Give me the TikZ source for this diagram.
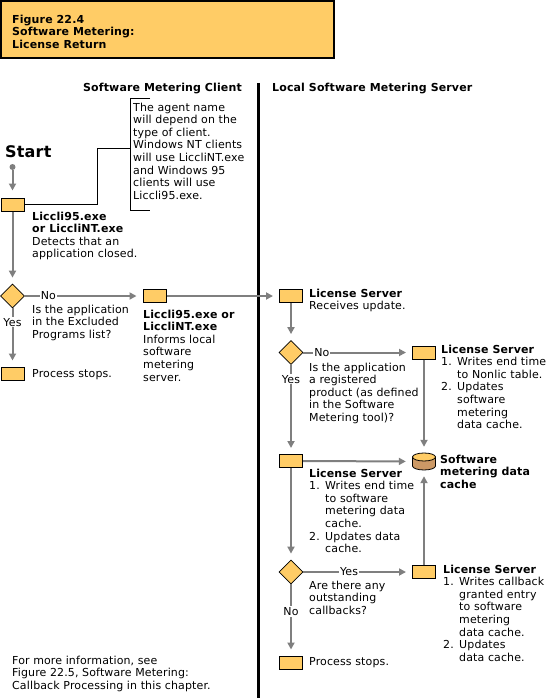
\documentclass[tikz,border=0pt]{standalone}
\usepackage{fontspec}
\setmainfont{DejaVu Sans}[LetterSpace=1.2]
\usetikzlibrary{shapes.geometric,arrows.meta}
\definecolor{orangefill}{HTML}{FFCC66}
\definecolor{linegray}{HTML}{7F7F7F}
\definecolor{dbside}{HTML}{CC9966}
\newcommand{\itm}[1]{\makebox[16pt][l]{#1}}
\newcommand{\ind}{\hspace*{16pt}}
\begin{document}
\begin{tikzpicture}[x=1pt,y=-1pt,
  box/.style={draw=black, line width=1pt, fill=orangefill, minimum width=23pt, minimum height=13pt, inner sep=0pt},
  decision/.style={diamond, aspect=1, draw=black, line width=0.8pt, fill=orangefill, minimum width=24pt, minimum height=24pt, inner sep=0pt},
  txt/.style={font=\fontsize{11}{12.6}\selectfont, align=left, anchor=north west, inner sep=0pt},
  btxt/.style={txt, font=\fontsize{11}{12.6}\selectfont\bfseries},
  flow/.style={draw=linegray, line width=2pt, -{Triangle[length=7pt,width=7pt]}, shorten >=6pt},
  lbl/.style={font=\fontsize{11}{12.6}\selectfont, fill=white, inner sep=1pt, text=black},
  thinline/.style={draw=black, line width=1pt}
]
\useasboundingbox (0,0) rectangle (549,698);

% title
\draw[line width=2pt, fill=orangefill] (1,1) rectangle (334,58);
\node[btxt, font=\fontsize{11}{12.2}\selectfont\bfseries] (title) at (12,15) {\strut Figure 22.4\\Software Metering:\\License Return};

% headers and divider
\node[btxt, anchor=north east] (hclient) at (242,82) {\strut Software Metering Client};
\node[btxt] (hserver) at (272,82) {\strut Local Software Metering Server};
\draw[line width=3pt] (258,83) -- (258,698);

% start
\node[font=\fontsize{16}{18}\selectfont\bfseries, anchor=west, inner sep=0pt] (start) at (5,152) {Start};
\node[circle, fill=linegray, minimum size=6pt, inner sep=0pt] (dot) at (12.5,167) {};

% nodes
\node[box] (b1) at (12.5,204.5) {};
\node[decision] (d1) at (12.5,296) {};
\node[box] (b3) at (12.5,373.5) {};
\node[box] (b2) at (154.5,296) {};
\node[box] (b4) at (291,296) {};
\node[decision] (d2) at (291,352.5) {};
\node[box] (b5) at (424,352.5) {};
\node[box] (b6) at (291,461) {};
\node[minimum width=24pt, minimum height=17pt, inner sep=0pt] (db) at (424,461.5) {};
\node[decision] (d3) at (291,572) {};
\node[box] (b7) at (424,572) {};
\node[box] (b8) at (291,662.5) {};

% database cylinder
\begin{scope}[shift={(db.center)}]
  \filldraw[fill=dbside, draw=black, line width=0.8pt]
    (-11.5,-4.5) -- (-11.5,4.5) arc[start angle=180, end angle=0, x radius=11.5, y radius=4] -- (11.5,-4.5) -- cycle;
  \filldraw[fill=orangefill, draw=black, line width=0.8pt] (0,-4.5) ellipse[x radius=11.5, y radius=4];
\end{scope}

% note
\coordinate (notejoin) at (130,148);
\draw[thinline] (150,99) -- (130,99) -- (130,210.5) -- (150,210.5);
\draw[thinline] (b1.east) -- (97,204.5) -- (97,148) -- (notejoin);
\node[txt] (note) at (133,102) {\strut The agent name\\will depend on the\\type of client.\\Windows NT clients\\will use LiccliNT.exe\\and Windows 95\\clients will use\\Liccli95.exe.};

% connectors
\draw[flow, shorten >=7pt] (dot) -- (b1);
\draw[flow] (b1) -- (d1);
\draw[flow] (d1) -- node[lbl, pos=0.2] (no1) {No} (b2);
\draw[flow] (d1) -- node[lbl, pos=0.24] (yes1) {Yes} (b3);
\draw[flow] (b2) -- (b4);
\draw[flow] (b4) -- (d2);
\draw[flow] (d2) -- node[lbl, pos=0.17] (no2) {No} (b5);
\draw[flow] (d2) -- node[lbl, pos=0.16] (yes2) {Yes} (b6);
\draw[flow] (b5) -- (db);
\draw[flow] (b6) -- (db);
\draw[flow] (b6) -- (d3);
\draw[flow] (d3) -- node[lbl, pos=0.42] (yes3) {Yes} (b7);
\draw[flow] (b7) -- (db);
\draw[flow] (d3) -- node[lbl, pos=0.38] (no3) {No} (b8);

% texts
\node[txt] (b1t) at (32,211) {\strut\textbf{Liccli95.exe}\\\textbf{or LiccliNT.exe}\\Detects that an\\application closed.};
\node[txt] (q1) at (32,304) {\strut Is the application\\in the Excluded\\Programs list?};
\node[txt] (b3t) at (32,368) {\strut Process stops.};
\node[txt] (b2t) at (143,309) {\strut\textbf{Liccli95.exe or}\\\textbf{LiccliNT.exe}\\Informs local\\software\\metering\\server.};
\node[txt] (b4t) at (309,288) {\strut\textbf{License Server}\\Receives update.};
\node[txt] (q2) at (309,362) {\strut Is the application\\a registered\\product (as defined\\in the Software\\Metering tool)?};
\node[txt] (b5t) at (441,344) {\strut\textbf{License Server}\\\itm{1.}Writes end time\\\ind to Nonlic table.\\\itm{2.}Updates\\\ind software\\\ind metering\\\ind data cache.};
\node[txt] (b6t) at (309,468) {\strut\textbf{License Server}\\\itm{1.}Writes end time\\\ind to software\\\ind metering data\\\ind cache.\\\itm{2.}Updates data\\\ind cache.};
\node[btxt] (dbt) at (440,454) {\strut Software\\metering data\\cache};
\node[txt] (q3) at (309,580) {\strut Are there any\\outstanding\\callbacks?};
\node[txt] (b7t) at (443,564) {\strut\textbf{License Server}\\\itm{1.}Writes callback\\\ind granted entry\\\ind to software\\\ind metering\\\ind data cache.\\\itm{2.}Updates\\\ind data cache.};
\node[txt] (b8t) at (309,656) {\strut Process stops.};
\node[txt] (footer) at (12,655) {\strut For more information, see\\Figure 22.5, Software Metering:\\Callback Processing in this chapter.};
\end{tikzpicture}
\end{document}
